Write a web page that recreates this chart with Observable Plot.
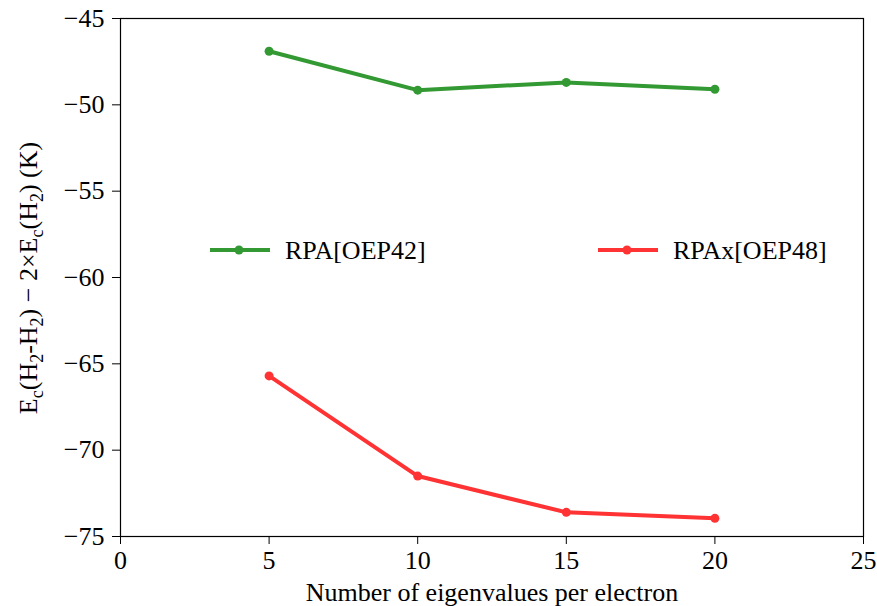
<!DOCTYPE html>
<html>
<head>
<meta charset="utf-8">
<script src="https://cdn.jsdelivr.net/npm/d3@7"></script>
<script src="https://cdn.jsdelivr.net/npm/@observablehq/plot@0.6"></script>
<style>
  body { margin: 0; background: #fff; }
  #chart { width: 877px; height: 606px; }
</style>
</head>
<body>
<div id="chart"></div>
<script>
const eigenvalues = [5, 10, 15, 20];
const rpaOEP42 = [-46.9, -49.15, -48.7, -49.1];
const rpaxOEP48 = [-65.7, -71.5, -73.6, -73.95];
const seriesNames = ["RPA[OEP42]", "RPAx[OEP48]"];
const seriesColors = ["#339933", "#ff3333"];
const xTicks = [0, 5, 10, 15, 20, 25];
const yTicks = [-75, -70, -65, -60, -55, -50, -45];

const table = [];
eigenvalues.forEach((x, i) => table.push({x, y: rpaOEP42[i], s: seriesNames[0]}));
eigenvalues.forEach((x, i) => table.push({x, y: rpaxOEP48[i], s: seriesNames[1]}));

const font = "'Liberation Serif', 'DejaVu Serif', serif";
const fs = 26;

const plot = Plot.plot({
  width: 877,
  height: 606,
  marginLeft: 120,
  marginRight: 14,
  marginTop: 18,
  marginBottom: 70,
  style: {fontFamily: font, fontSize: fs + "px", color: "#000", background: "#fff"},
  x: {domain: [0, 25], ticks: xTicks, label: null},
  y: {domain: [-75, -45], ticks: yTicks, label: null},
  color: {domain: seriesNames, range: seriesColors},
  marks: [
    Plot.frame({stroke: "#000", strokeWidth: 1.2}),
    Plot.axisX({ticks: xTicks, tickSize: 8, tickPadding: 6, fontSize: fs,
      label: "Number of eigenvalues per electron", labelAnchor: "center", labelArrow: "none", labelOffset: 64}),
    Plot.axisY({ticks: yTicks, tickSize: 8, tickPadding: 8, fontSize: fs, label: null}),
    Plot.line(table, {x: "x", y: "y", z: "s", stroke: "s", strokeWidth: 4}),
    Plot.dot(table, {x: "x", y: "y", fill: "s", r: 4.5})
  ]
});
document.getElementById("chart").appendChild(plot);

const svg = d3.select(plot);
// y-axis label with subscripts
const yl = svg.append("text")
  .attr("transform", "translate(37,278) rotate(-90)")
  .attr("text-anchor", "middle")
  .attr("font-family", font)
  .attr("font-size", fs)
  .attr("fill", "#000");
const parts = [["E",0],["c",1],["(H",0],["2",1],["-H",0],["2",1],[") \u2212 2\u00d7E",0],["c",1],["(H",0],["2",1],[") (K)",0]];
parts.forEach(([t, sub], i) => {
  const prevSub = i > 0 ? parts[i-1][1] : 0;
  const ts = yl.append("tspan").text(t)
    .attr("dy", sub && !prevSub ? 6 : (!sub && prevSub ? -6 : 0));
  if (sub) ts.attr("font-size", 18);
});

// legend
const legend = [
  {name: seriesNames[0], color: seriesColors[0], x0: 210},
  {name: seriesNames[1], color: seriesColors[1], x0: 598}
];
const ly = 250;
legend.forEach(l => {
  svg.append("line").attr("x1", l.x0).attr("x2", l.x0 + 60).attr("y1", ly).attr("y2", ly)
    .attr("stroke", l.color).attr("stroke-width", 4);
  svg.append("circle").attr("cx", l.x0 + 29).attr("cy", ly).attr("r", 4.5).attr("fill", l.color);
  svg.append("text").attr("x", l.x0 + 75).attr("y", ly).attr("dy", "0.35em")
    .attr("text-anchor", "start")
    .attr("font-family", font).attr("font-size", fs).attr("fill", "#000").text(l.name);
});
</script>
</body>
</html>
